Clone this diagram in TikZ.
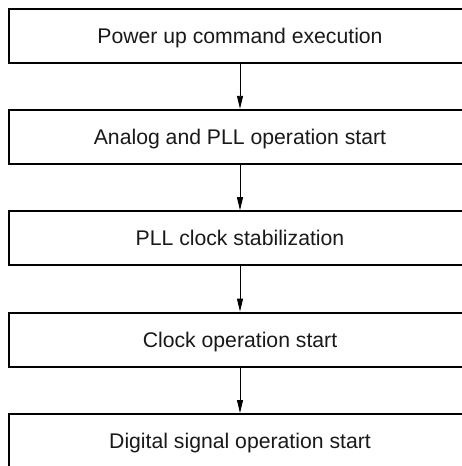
\documentclass[tikz,border=0pt]{standalone}
\usepackage{fontspec}
\setmainfont{Liberation Sans}
\usetikzlibrary{arrows.meta}
\tikzset{
  flowbox/.style={draw=black, line width=2pt, minimum width=462pt, minimum height=54pt,
    inner sep=0pt, text height=15pt, text depth=0pt,
    font=\fontsize{21.2}{25}\selectfont, text=black!90},
  flowarrow/.style={draw=black, line width=0.9pt, -{Stealth[length=13pt,width=6pt,inset=0pt]}}
}
\begin{document}
\begin{tikzpicture}[x=1pt,y=-1pt]
\useasboundingbox (0,0) rectangle (462,466);
\clip (0,0) rectangle (462,466);
\fill[white] (0,0) rectangle (462,466);
\node[flowbox] (b1) at (240,35.5) {Power up command execution};
\node[flowbox] (b2) at (240,136.8) {Analog and PLL operation start};
\node[flowbox] (b3) at (240,238.2) {PLL clock stabilization};
\node[flowbox] (b4) at (240,339.6) {Clock operation start};
\node[flowbox] (b5) at (240,441) {Digital signal operation start};
\draw[flowarrow] (b1) -- (b2);
\draw[flowarrow] (b2) -- (b3);
\draw[flowarrow] (b3) -- (b4);
\draw[flowarrow] (b4) -- (b5);
\end{tikzpicture}
\end{document}
